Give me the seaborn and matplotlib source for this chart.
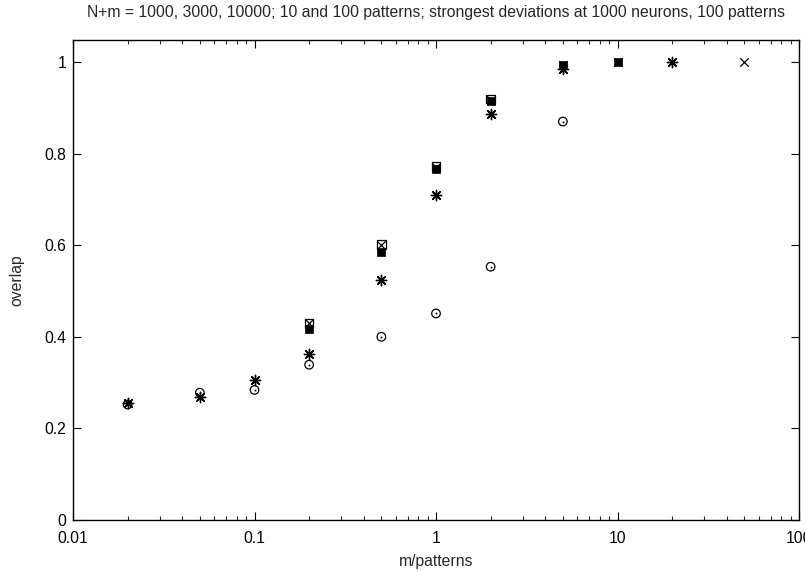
import numpy as np
import pandas as pd
import matplotlib
matplotlib.use("Agg")
import matplotlib.pyplot as plt
import seaborn as sns

# -----------------------------
# DATA
# -----------------------------
TITLE = "N+m = 1000, 3000, 10000; 10 and 100 patterns; strongest deviations at 1000 neurons, 100 patterns"

# 1000 neurons, 100 patterns (open circle with dot)
circ_x = [0.02, 0.05, 0.1, 0.2, 0.5, 1, 2, 5]
circ_y = [0.252, 0.278, 0.284, 0.339, 0.400, 0.451, 0.553, 0.870]

# asterisks
ast_x = [0.02, 0.05, 0.1, 0.2, 0.5, 1, 2, 5, 20]
ast_y = [0.255, 0.269, 0.305, 0.362, 0.524, 0.710, 0.886, 0.985, 1.0]

# filled squares
fsq_x = [0.2, 0.5, 1, 2, 5, 10]
fsq_y = [0.418, 0.586, 0.767, 0.915, 0.993, 1.0]

# open squares
osq_x = [0.2, 0.5, 1, 2]
osq_y = [0.430, 0.601, 0.772, 0.919]

# crosses
crs_x = [0.2, 0.5, 1, 2, 5, 10, 50]
crs_y = [0.430, 0.601, 0.771, 0.918, 0.993, 1.0, 1.0]

X_TICKS = [0.01, 0.1, 1, 10, 100]
X_TICKLABELS = ["0.01", "0.1", "1", "10", "100"]
Y_TICKS = [0, 0.2, 0.4, 0.6, 0.8, 1]
Y_TICKLABELS = ["0", "0.2", "0.4", "0.6", "0.8", "1"]

# -----------------------------
# STYLE
# -----------------------------
sns.set_style("ticks")
plt.rcParams["font.family"] = ["Liberation Sans", "DejaVu Sans"]
FS = 11.3

fig = plt.figure(figsize=(8.05, 5.72), dpi=100)
ax = fig.add_axes([73 / 805, 1 - 520 / 572, (799 - 73) / 805, (520 - 40) / 572])

# -----------------------------
# PLOT
# -----------------------------
circ = pd.DataFrame({"x": circ_x, "y": circ_y})
sns.scatterplot(data=circ, x="x", y="y", ax=ax, marker="o", s=38,
                facecolor="none", edgecolor="black", linewidth=0.9, zorder=3)
sns.scatterplot(data=circ, x="x", y="y", ax=ax, marker="o", s=2,
                color="black", linewidth=0, zorder=3)

ast = pd.DataFrame({"x": ast_x, "y": ast_y})
sns.scatterplot(data=ast, x="x", y="y", ax=ax, marker=(8, 2, 0), s=55,
                color="black", edgecolor="black", linewidth=1.0, zorder=4)

fsq = pd.DataFrame({"x": fsq_x, "y": fsq_y})
sns.scatterplot(data=fsq, x="x", y="y", ax=ax, marker="s", s=38,
                color="black", edgecolor="black", linewidth=0.5, zorder=5)

osq = pd.DataFrame({"x": osq_x, "y": osq_y})
sns.scatterplot(data=osq, x="x", y="y", ax=ax, marker="s", s=38,
                facecolor="none", edgecolor="black", linewidth=0.9, zorder=6)

crs = pd.DataFrame({"x": crs_x, "y": crs_y})
sns.scatterplot(data=crs, x="x", y="y", ax=ax, marker="x", s=38,
                color="black", linewidth=0.9, zorder=6)

# -----------------------------
# AXES
# -----------------------------
ax.set_xscale("log")
ax.set_xlim(0.01, 100)
ax.set_ylim(0, 1.048)
ax.set_xticks(X_TICKS)
ax.set_xticklabels(X_TICKLABELS)
ax.set_yticks(Y_TICKS)
ax.set_yticklabels(Y_TICKLABELS)
ax.tick_params(which="major", direction="in", length=6, width=0.8,
               top=True, right=True, labelsize=FS, colors="black")
ax.tick_params(axis="x", which="major", pad=8)
ax.tick_params(axis="y", which="major", pad=5)
ax.tick_params(which="minor", direction="in", length=3, width=0.8,
               top=True, right=True)
for sp in ax.spines.values():
    sp.set_visible(True)
    sp.set_linewidth(1.0)
    sp.set_color("black")

ax.set_xlabel("m/patterns", fontsize=FS, labelpad=6)
ax.set_ylabel("overlap", fontsize=FS, labelpad=14)
fig.text(436 / 805, 1 - 13 / 572, TITLE, ha="center", va="center", fontsize=FS)

fig.savefig("out.png", dpi=100)
